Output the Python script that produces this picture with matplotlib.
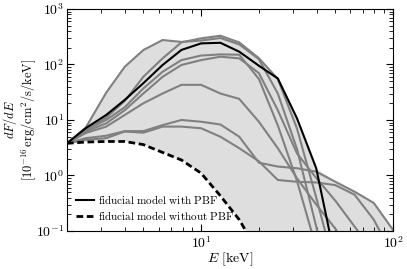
import numpy as np
import matplotlib
matplotlib.use("Agg")
import matplotlib.pyplot as plt
from matplotlib.ticker import FuncFormatter, NullFormatter

plt.rcParams['mathtext.fontset'] = 'cm'

# energy grid (keV)
energy = [2.0, 2.5, 3.2, 4.0, 5.0, 6.3, 7.9, 10.0, 12.6, 15.8,
          20.0, 25.1, 31.6, 39.8, 50.1, 63.1, 79.4, 100.0]

# fiducial model, with / without PBF
fid_pbf = [3.8, 7.1, 12.3, 23, 46, 98, 183, 240, 246, 170,
           95, 56, 10.7, 1.35, 0.03, 0.001, 0.001, 0.001]
fid_nopbf = [3.8, 4.0, 4.1, 4.1, 3.6, 2.6, 1.9, 1.1, 0.43, 0.16,
             0.04, 0.005, 0.001, 0.001, 0.001, 0.001, 0.001, 0.001]

# other models (grey)
model_a = [3.8, 7.2, 31, 91, 182, 276, 255, 270, 300, 230,
           125, 30, 3.0, 0.12, 0.005, 0.001, 0.001, 0.001]
model_b = [3.8, 6.5, 11, 22, 60, 129, 251, 296, 330, 250,
           130, 55, 7.0, 0.4, 0.02, 0.001, 0.001, 0.001]
model_c = [3.8, 6.6, 10, 17, 37, 74, 120, 145, 152, 150,
           55, 8.0, 0.8, 0.05, 0.002, 0.001, 0.001, 0.001]
model_d = [3.8, 6.2, 8.7, 15, 30, 60, 98, 120, 138, 129,
           70, 15, 2.5, 0.9, 0.35, 0.12, 0.04, 0.01]
model_e = [3.8, 5.8, 7.6, 12.3, 20, 30, 43, 43, 30, 24,
           9.3, 3.1, 0.89, 0.3, 0.11, 0.03, 0.005, 0.001]
model_f = [3.8, 4.7, 5.2, 6.3, 6.3, 8.1, 10, 9.3, 8.3, 5.0,
           1.7, 1.45, 1.35, 1.17, 0.77, 0.51, 0.32, 0.105]
model_g = [3.8, 4.4, 4.7, 6.2, 5.9, 7.6, 7.6, 7.1, 5.0, 3.1,
           1.8, 0.83, 0.77, 0.75, 0.67, 0.45, 0.16, 0.035]

grey_models = [model_a, model_b, model_c, model_d, model_e, model_f, model_g]

fig = plt.figure(figsize=(4.07, 2.69), dpi=100)
ax = fig.add_axes([0.1646, 0.1413, 0.801, 0.8253])

# shaded range between model without PBF and upper envelope
upper = np.max(np.vstack(grey_models + [fid_pbf]), axis=0)
ax.fill_between(energy, fid_nopbf, upper, color='#dedede', lw=0, zorder=1)

for m in grey_models:
    ax.plot(energy, m, color='#808080', lw=1.5, zorder=2)

ax.plot(energy, fid_pbf, color='k', lw=1.5, zorder=3,
        label=r'$\mathrm{fiducial\ model\ with\ PBF}$')
ax.plot(energy, fid_nopbf, color='k', lw=2.0, ls=(0, (2.4, 1.3)), zorder=3,
        label=r'$\mathrm{fiducial\ model\ without\ PBF}$')

ax.set_xscale('log')
ax.set_yscale('log')
ax.set_xlim(2, 100)
ax.set_ylim(0.1, 1000)

fmt = FuncFormatter(lambda v, p: r'$10^{%d}$' % round(np.log10(v)))
ax.xaxis.set_major_formatter(fmt)
ax.yaxis.set_major_formatter(fmt)
ax.xaxis.set_minor_formatter(NullFormatter())
ax.yaxis.set_minor_formatter(NullFormatter())

ax.tick_params(which='both', direction='in', top=True, right=True, labelsize=10)
ax.tick_params(axis='y', pad=2)
ax.tick_params(axis='x', pad=3)
ax.tick_params(which='major', length=5, width=0.8)
ax.tick_params(which='minor', length=3, width=0.6)

ax.set_xlabel(r'$E\ [\mathrm{keV}]$', fontsize=10, labelpad=0)
ax.set_ylabel(r'$dF/dE$' + '\n' + r'$[10^{-16}\,\mathrm{erg/cm^2/s/keV}]$',
              fontsize=9, linespacing=1.0)
ax.yaxis.set_label_coords(-0.09, 0.5)

ax.legend(loc='lower left', frameon=False, fontsize=8, handlelength=1.6,
          handletextpad=0.4, labelspacing=0.25, borderaxespad=0.4)

fig.savefig('out.png', dpi=100)
